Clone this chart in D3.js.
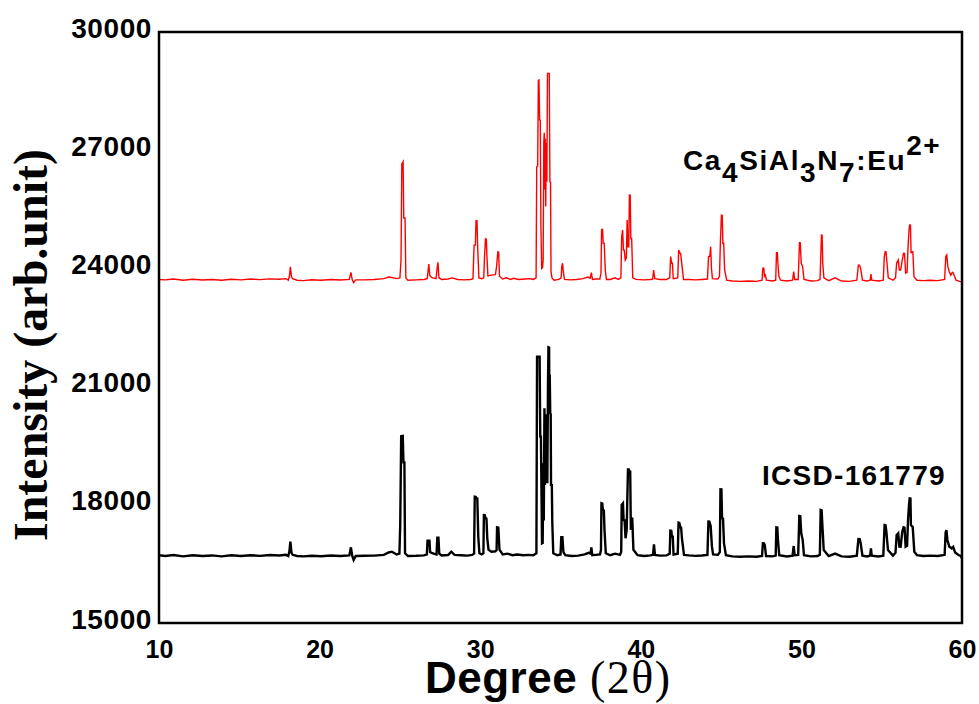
<!DOCTYPE html>
<html>
<head>
<meta charset="utf-8">
<script src="https://cdn.jsdelivr.net/npm/d3@7"></script>
<style>
  html, body { margin: 0; padding: 0; background: #fff; }
  svg { display: block; }
</style>
</head>
<body>
<div id="chart"></div>
<script>
// Axis ticks
const xTicks = [10, 20, 30, 40, 50, 60];
const yTicks = [15000, 18000, 21000, 24000, 27000, 30000];

// Series labels
const sampleName = ["Ca", "4", "SiAl", "3", "N", "7", ":Eu", "2+"];
const referenceName = "ICSD-161779";

// Measured pattern of the phosphor sample: [2θ (deg), intensity]
const samplePattern = [
  [10.0, 23720], [10.4, 23710], [10.9, 23730], [11.5, 23700], [12.1, 23725], [12.7, 23705],
  [13.3, 23720], [13.9, 23700], [14.5, 23725], [15.1, 23710], [15.7, 23730], [16.3, 23715],
  [16.9, 23735], [17.5, 23725], [17.9, 23740], [18.05, 23700], [18.12, 23800], [18.18, 24040],
  [18.25, 23780], [18.32, 23740], [18.6, 23700], [19.0, 23690], [19.5, 23710], [20.1, 23700],
  [20.7, 23720], [21.3, 23705], [21.85, 23720], [21.95, 23900], [22.03, 23720], [22.12, 23640],
  [22.25, 23710], [22.8, 23710], [23.4, 23720], [24.0, 23740], [24.3, 23780], [24.5, 23770],
  [24.8, 23740], [25.0, 23760], [25.07, 24200], [25.12, 26650], [25.2, 26710], [25.24, 25280],
  [25.32, 25280], [25.37, 23760], [25.5, 23700], [26.0, 23710], [26.5, 23720], [26.7, 23740],
  [26.76, 23950], [26.8, 24110], [26.86, 23820], [26.95, 23780], [27.05, 23760], [27.25, 23740],
  [27.32, 24000], [27.37, 24155], [27.43, 23760], [27.6, 23720], [28.0, 23730], [28.25, 23760],
  [28.6, 23720], [29.0, 23710], [29.4, 23720], [29.55, 23740], [29.62, 24590], [29.7, 24590],
  [29.74, 25210], [29.8, 25210], [29.84, 24560], [29.92, 23760], [30.1, 23740], [30.22, 23760],
  [30.27, 24300], [30.33, 24750], [30.38, 24740], [30.42, 24300], [30.48, 23810], [30.7, 23830],
  [30.95, 23840], [31.02, 24050], [31.1, 24420], [31.15, 24410], [31.2, 23800], [31.4, 23730],
  [31.64, 23760], [31.9, 23720], [32.06, 23750], [32.4, 23720], [32.8, 23730], [33.1, 23740],
  [33.3, 23720], [33.48, 23760], [33.52, 26580], [33.58, 26600], [33.62, 28770], [33.66, 28780],
  [33.7, 27770], [33.74, 27766], [33.78, 25060], [33.83, 24000], [33.88, 24020], [33.92, 24210],
  [33.96, 27200], [33.99, 27440], [34.02, 26000], [34.05, 27300], [34.08, 25570], [34.12, 27180],
  [34.15, 26200], [34.19, 28950], [34.3, 28950], [34.34, 26200], [34.38, 26180], [34.41, 23916],
  [34.47, 23760], [34.6, 23700], [34.9, 23720], [35.04, 23760], [35.08, 24050], [35.13, 24130],
  [35.18, 23900], [35.25, 23720], [35.6, 23710], [36.0, 23720], [36.4, 23740], [36.7, 23780],
  [36.85, 23750], [36.92, 23890], [36.99, 23720], [37.2, 23730], [37.45, 23730], [37.52, 23880],
  [37.56, 24990], [37.62, 24990], [37.66, 24640], [37.72, 24640], [37.79, 23950], [37.86, 23720],
  [38.1, 23720], [38.4, 23760], [38.6, 23720], [38.76, 23760], [38.81, 24800], [38.87, 24975],
  [38.92, 24467], [38.97, 24460], [39.03, 24210], [39.1, 24260], [39.15, 25228], [39.2, 24550],
  [39.25, 24550], [39.29, 25863], [39.34, 25860], [39.38, 24760], [39.43, 24760], [39.5, 23760],
  [39.7, 23720], [40.2, 23710], [40.6, 23720], [40.74, 23730], [40.8, 23960], [40.87, 23740],
  [41.2, 23720], [41.6, 23720], [41.8, 23760], [41.86, 24300], [41.92, 24130], [41.97, 24130],
  [42.02, 23740], [42.3, 23760], [42.36, 24467], [42.42, 24390], [42.48, 24384], [42.57, 24050],
  [42.66, 23720], [43.0, 23720], [43.4, 23710], [43.8, 23720], [44.15, 23730], [44.22, 24300],
  [44.3, 24310], [44.35, 24552], [44.4, 24000], [44.46, 23740], [44.8, 23730], [44.9, 23800],
  [44.96, 24720], [45.02, 25355], [45.07, 25350], [45.11, 24636], [45.16, 24640], [45.22, 23960],
  [45.35, 23700], [45.7, 23680], [46.2, 23670], [46.7, 23680], [47.2, 23670], [47.55, 23700],
  [47.6, 24005], [47.66, 24005], [47.7, 23800], [47.76, 23830], [47.82, 23700], [48.2, 23680],
  [48.4, 23700], [48.45, 24400], [48.5, 24400], [48.54, 24130], [48.6, 23800], [48.7, 23700],
  [49.1, 23680], [49.45, 23700], [49.52, 23916], [49.58, 23720], [49.8, 23720], [49.88, 24653],
  [49.93, 24650], [49.99, 24130], [50.08, 24045], [50.16, 23720], [50.6, 23680], [51.0, 23690],
  [51.16, 23720], [51.2, 24213], [51.25, 24848], [51.29, 24840], [51.33, 24130], [51.4, 23760],
  [51.7, 23690], [52.1, 23760], [52.5, 23680], [53.0, 23670], [53.45, 23700], [53.55, 24086],
  [53.62, 24080], [53.69, 24000], [53.8, 23700], [54.1, 23680], [54.28, 23700], [54.33, 23858],
  [54.38, 23700], [54.8, 23680], [55.1, 23700], [55.16, 24300], [55.22, 24425], [55.27, 24420],
  [55.33, 24130], [55.41, 23760], [55.7, 23700], [55.86, 23760], [55.93, 24130], [56.03, 24213],
  [56.1, 23960], [56.18, 23960], [56.28, 24213], [56.36, 24384], [56.42, 24380], [56.49, 23880],
  [56.58, 23900], [56.64, 24552], [56.7, 24975], [56.74, 25101], [56.79, 25100], [56.83, 24384],
  [56.88, 24425], [56.94, 24420], [57.01, 23790], [57.2, 23700], [57.6, 23690], [58.0, 23700],
  [58.5, 23690], [58.92, 23720], [58.99, 24300], [59.05, 24340], [59.12, 24045], [59.21, 23916],
  [59.3, 23830], [59.4, 23900], [59.46, 23880], [59.63, 23700], [59.88, 23665], [60.0, 23665]
];

// Reference pattern (ICSD-161779): [2θ (deg), intensity]
const referencePattern = [
  [10.0, 16720], [10.4, 16700], [10.9, 16725], [11.5, 16690], [12.1, 16720], [12.7, 16700],
  [13.3, 16715], [13.9, 16690], [14.5, 16720], [15.1, 16700], [15.7, 16720], [16.3, 16705],
  [16.9, 16725], [17.5, 16715], [17.9, 16730], [18.05, 16700], [18.12, 16820], [18.18, 17063],
  [18.25, 16780], [18.32, 16730], [18.6, 16700], [19.0, 16690], [19.5, 16705], [20.1, 16695],
  [20.7, 16715], [21.3, 16700], [21.85, 16715], [21.95, 16921], [22.03, 16710], [22.12, 16600],
  [22.25, 16700], [22.8, 16705], [23.4, 16710], [24.0, 16730], [24.3, 16790], [24.5, 16810],
  [24.8, 16740], [24.97, 16760], [25.02, 17487], [25.08, 19740], [25.18, 19746], [25.22, 19078],
  [25.28, 19078], [25.32, 16770], [25.5, 16700], [26.0, 16705], [26.5, 16715], [26.68, 16740],
  [26.72, 17089], [26.84, 17089], [26.88, 16800], [26.98, 16780], [27.1, 16760], [27.28, 16740],
  [27.33, 17165], [27.4, 17165], [27.45, 16760], [27.6, 16715], [28.0, 16725], [28.2, 16810],
  [28.4, 16730], [28.8, 16720], [29.2, 16710], [29.5, 16730], [29.62, 16760], [29.66, 18205],
  [29.72, 18200], [29.78, 18164], [29.82, 18160], [29.88, 17190], [29.95, 16770], [30.1, 16740],
  [30.2, 16770], [30.23, 17741], [30.28, 17740], [30.34, 17656], [30.39, 17650], [30.44, 17149],
  [30.52, 16860], [30.7, 16810], [30.95, 16820], [31.02, 16850], [31.05, 17428], [31.13, 17420],
  [31.2, 16860], [31.4, 16740], [31.7, 16760], [32.0, 16720], [32.3, 16740], [32.7, 16720],
  [33.0, 16730], [33.3, 16720], [33.5, 16770], [33.54, 21760], [33.7, 21760], [33.74, 19730],
  [33.78, 19730], [33.85, 17022], [33.89, 17030], [33.93, 19053], [33.96, 17600], [34.0, 20450],
  [34.03, 18500], [34.06, 20300], [34.1, 18600], [34.14, 19500], [34.18, 18545], [34.22, 21000],
  [34.25, 21997], [34.29, 21990], [34.31, 20400], [34.33, 21300], [34.36, 20322], [34.39, 20300],
  [34.41, 18502], [34.46, 18500], [34.49, 17530], [34.55, 16770], [34.8, 16720], [35.0, 16740],
  [35.05, 17175], [35.12, 17175], [35.18, 16800], [35.3, 16720], [35.7, 16700], [36.1, 16710],
  [36.5, 16740], [36.75, 16780], [36.87, 16760], [36.92, 16921], [36.98, 16720], [37.2, 16730],
  [37.46, 16740], [37.52, 16850], [37.55, 18038], [37.6, 18030], [37.64, 17868], [37.7, 17860],
  [37.74, 17360], [37.82, 16770], [38.1, 16720], [38.4, 16760], [38.7, 16730], [38.78, 16800],
  [38.81, 17995], [38.89, 18038], [38.93, 17614], [38.99, 17610], [39.05, 17150], [39.12, 17360],
  [39.2, 18900], [39.25, 18900], [39.3, 18840], [39.34, 18840], [39.38, 17360], [39.42, 17656],
  [39.47, 17650], [39.54, 16860], [39.8, 16720], [40.2, 16700], [40.6, 16715], [40.76, 16730],
  [40.82, 16996], [40.88, 16730], [41.2, 16710], [41.6, 16715], [41.8, 16760], [41.84, 17343],
  [41.9, 17340], [41.94, 17190], [41.99, 17190], [42.04, 16740], [42.3, 16760], [42.35, 17546],
  [42.4, 17540], [42.46, 17428], [42.51, 17420], [42.57, 17107], [42.69, 16730], [43.0, 16715],
  [43.4, 16705], [43.8, 16715], [44.15, 16730], [44.21, 17572], [44.27, 17570], [44.35, 17462],
  [44.43, 16937], [44.5, 16740], [44.8, 16730], [44.92, 16800], [44.96, 18393], [45.02, 18390],
  [45.06, 17656], [45.12, 17650], [45.18, 17022], [45.3, 16720], [45.7, 16690], [46.2, 16680],
  [46.7, 16690], [47.2, 16680], [47.55, 16700], [47.6, 17022], [47.67, 17020], [47.72, 16980],
  [47.8, 16700], [48.2, 16690], [48.4, 16710], [48.44, 17428], [48.5, 17425], [48.54, 17107],
  [48.62, 16720], [49.1, 16690], [49.45, 16710], [49.52, 16954], [49.58, 16720], [49.8, 16730],
  [49.87, 17716], [49.93, 17710], [49.99, 17276], [50.08, 17107], [50.16, 16720], [50.6, 16690],
  [51.0, 16700], [51.15, 16730], [51.2, 17868], [51.26, 17860], [51.3, 17530], [51.39, 16850],
  [51.7, 16700], [52.1, 16760], [52.5, 16690], [53.0, 16680], [53.45, 16710], [53.55, 17132],
  [53.63, 17130], [53.69, 17022], [53.8, 16710], [54.1, 16690], [54.28, 16710], [54.33, 16895],
  [54.38, 16710], [54.8, 16690], [55.1, 16710], [55.18, 17487], [55.24, 17480], [55.29, 17318],
  [55.39, 16850], [55.7, 16710], [55.86, 16780], [55.93, 17233], [56.03, 17276], [56.1, 16940],
  [56.18, 16937], [56.28, 17318], [56.36, 17428], [56.42, 17420], [56.49, 16937], [56.58, 16960],
  [56.64, 17614], [56.7, 18000], [56.74, 18164], [56.79, 18160], [56.82, 17487], [56.88, 17460],
  [56.93, 17440], [57.03, 16810], [57.2, 16720], [57.6, 16700], [58.0, 16710], [58.5, 16700],
  [58.92, 16730], [58.98, 17300], [59.03, 17360], [59.09, 17107], [59.21, 16937], [59.36, 16895],
  [59.45, 16930], [59.57, 16790], [59.78, 16726], [59.92, 16700], [60.0, 16642]
];

const width = 979, height = 704;
const margin = { left: 159, top: 32, right: 17, bottom: 81 };
const plotW = width - margin.left - margin.right;
const plotH = height - margin.top - margin.bottom;

const svg = d3.select("#chart").append("svg")
  .attr("width", width)
  .attr("height", height)
  .attr("viewBox", `0 0 ${width} ${height}`);

const x = d3.scaleLinear().domain([10, 60]).range([margin.left, margin.left + plotW]);
const y = d3.scaleLinear().domain([15000, 30000]).range([margin.top + plotH, margin.top]);

const sans = "'Liberation Sans', Arial, Helvetica, sans-serif";
const serif = "'Liberation Serif', 'Times New Roman', Times, serif";

// Clip the traces to the plot frame
svg.append("clipPath").attr("id", "plot-clip")
  .append("rect")
  .attr("x", margin.left).attr("y", margin.top)
  .attr("width", plotW).attr("height", plotH);

const line = d3.line().x(d => x(d[0])).y(d => y(d[1]));

const traces = svg.append("g").attr("clip-path", "url(#plot-clip)");
traces.append("path")
  .datum(referencePattern)
  .attr("fill", "none")
  .attr("stroke", "#000")
  .attr("stroke-width", 2.4)
  .attr("stroke-linejoin", "miter")
  .attr("d", line);
traces.append("path")
  .datum(samplePattern)
  .attr("fill", "none")
  .attr("stroke", "#ff0000")
  .attr("stroke-width", 1.4)
  .attr("stroke-linejoin", "miter")
  .attr("d", line);

// Axes: labels only, no tick marks
const xAxis = svg.append("g")
  .attr("transform", `translate(0,${margin.top + plotH})`)
  .call(d3.axisBottom(x).tickValues(xTicks).tickSize(0).tickPadding(0).tickFormat(d3.format("d")));
xAxis.select(".domain").remove();
xAxis.selectAll("text")
  .attr("dy", null)
  .attr("y", 35)
  .style("font-family", sans)
  .style("font-weight", "bold")
  .style("font-size", "25px")
  .attr("fill", "#000");

const yAxis = svg.append("g")
  .attr("transform", `translate(${margin.left},0)`)
  .call(d3.axisLeft(y).tickValues(yTicks).tickSize(0).tickPadding(0).tickFormat(d3.format("d")));
yAxis.select(".domain").remove();
yAxis.selectAll("text")
  .attr("dy", null)
  .attr("x", -7)
  .attr("y", 5)
  .style("font-family", sans)
  .style("font-weight", "bold")
  .style("font-size", "28px")
  .style("letter-spacing", "0.6px")
  .attr("fill", "#000");

// Plot frame
svg.append("rect")
  .attr("x", margin.left).attr("y", margin.top)
  .attr("width", plotW).attr("height", plotH)
  .attr("fill", "none")
  .attr("stroke", "#000")
  .attr("stroke-width", 2.5);

// Axis titles
const xTitle = svg.append("text")
  .attr("x", 425).attr("y", 693)
  .attr("fill", "#000");
xTitle.append("tspan")
  .style("font-family", sans).style("font-weight", "bold").style("font-size", "44px")
  .style("letter-spacing", "0.5px")
  .text("Degree ");
xTitle.append("tspan")
  .style("font-family", serif).style("font-size", "46px")
  .style("letter-spacing", "1.5px")
  .text("(2θ)");

svg.append("text")
  .attr("transform", "translate(47,345) rotate(-90)")
  .attr("text-anchor", "middle")
  .style("font-family", serif)
  .style("font-weight", "bold")
  .style("font-size", "48px")
  .attr("fill", "#000")
  .text("Intensity (arb.unit)");

// Series labels
const sampleText = svg.append("text")
  .attr("x", 683).attr("y", 170)
  .style("font-family", sans).style("font-weight", "bold").style("font-size", "28px")
  .style("letter-spacing", "1.6px")
  .attr("fill", "#000");
const shifts = [0, 12, -12, 12, -12, 12, -12, -15];
sampleName.forEach((part, i) => {
  sampleText.append("tspan")
    .attr("dy", shifts[i])
    .text(part);
});

svg.append("text")
  .attr("x", 762).attr("y", 485)
  .style("font-family", sans).style("font-weight", "bold").style("font-size", "28px")
  .style("letter-spacing", "1.3px")
  .attr("fill", "#000")
  .text(referenceName);
</script>
</body>
</html>
